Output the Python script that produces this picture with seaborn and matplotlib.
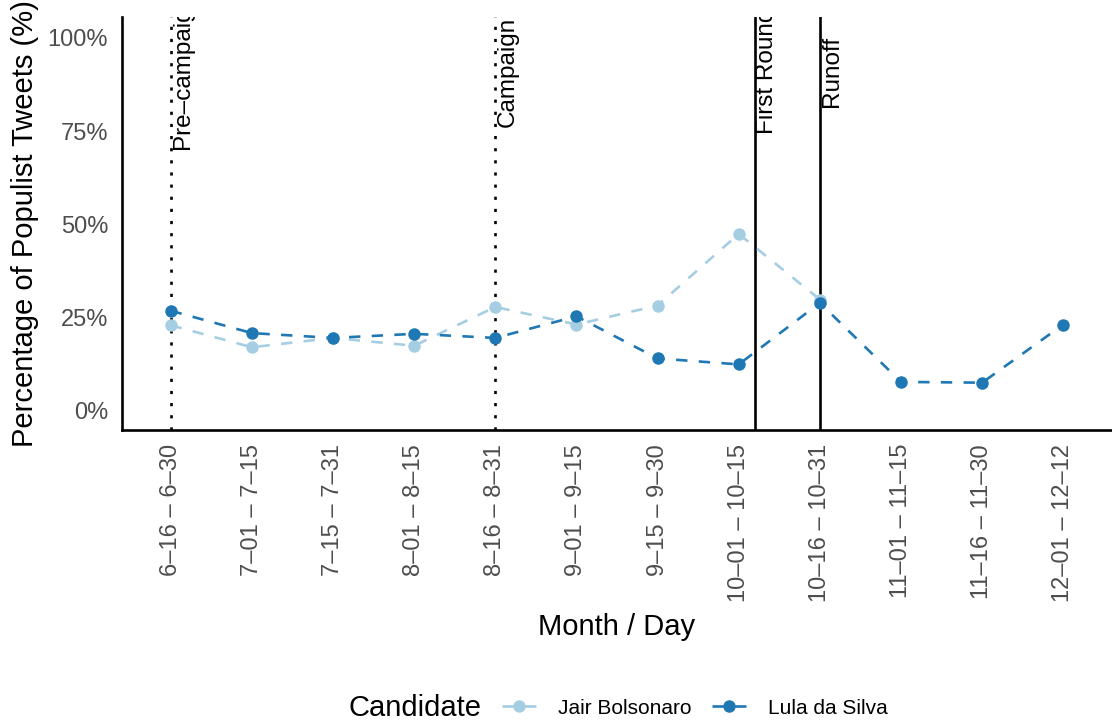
import pandas as pd
import matplotlib.pyplot as plt
import seaborn as sns

# periods (month-day ranges) on the x axis
periods = ['6–16 – 6–30', '7–01 – 7–15', '7–15 – 7–31', '8–01 – 8–15',
           '8–16 – 8–31', '9–01 – 9–15', '9–15 – 9–30', '10–01 – 10–15',
           '10–16 – 10–31', '11–01 – 11–15', '11–16 – 11–30', '12–01 – 12–12']

# share of populist tweets (%) per candidate
lula = [26.8, 20.8, 19.5, 20.6, 19.5, 25.3, 14.0, 12.4, 28.9, 7.7, 7.5, 23.1]
bolsonaro = [22.9, 17.0, 19.5, 17.4, 27.8, 23.1, 28.2, 47.4, 29.8]

candidates = ['Jair Bolsonaro', 'Lula da Silva']
colors = ['#a6cee3', '#1f78b4']

# campaign milestones
events = ['Pre–campaign', 'Campaign', 'First Round', 'Runoff']
event_x = [0, 4, 7.2, 8]
event_style = [(0, (1.2, 3.4)), (0, (1.2, 3.4)), '-', '-']

df = pd.concat([
    pd.DataFrame({'period': periods, 'pct': lula, 'candidate': 'Lula da Silva'}),
    pd.DataFrame({'period': periods[:len(bolsonaro)], 'pct': bolsonaro,
                  'candidate': 'Jair Bolsonaro'}),
])
df['period'] = pd.Categorical(df['period'], categories=periods, ordered=True)

sns.set_style('white')
plt.rcParams['font.family'] = ['Liberation Sans', 'DejaVu Sans']

fig = plt.figure(figsize=(11.12, 7.25), dpi=100)
ax = fig.add_axes([122 / 1112, 1 - 430 / 725, 1 - 122 / 1112, (430 - 17) / 725])

sns.lineplot(data=df, x='period', y='pct', hue='candidate', hue_order=candidates,
             palette=colors, marker='o', markersize=9, markeredgewidth=0,
             linestyle='--', dashes=False, linewidth=1.9, ax=ax, zorder=3)
for line in ax.get_lines():
    line.set_dashes((4.3, 4.3))

handles, labels = ax.get_legend_handles_labels()
ax.get_legend().remove()
for h in handles:
    h.set_dashes((4.3, 4.3))
    h.set_linewidth(1.9)

for x, label, ls in zip(event_x, events, event_style):
    ax.axvline(x, color='black', linewidth=1.9, linestyle=ls, zorder=1,
               dash_capstyle='butt')
    ax.text(x + 0.15, 91, label, rotation=90, ha='center', va='center',
            fontsize=17.5, color='black', clip_on=True)

ax.set_xlim(-0.6, 11.6)
ax.set_ylim(-5.2, 105.6)
ax.set_yticks([0, 25, 50, 75, 100])
ax.set_yticklabels(['0%', '25%', '50%', '75%', '100%'])
ax.set_xticks(range(len(periods)))
ax.set_xticklabels(periods, rotation=90, va='top', ha='center')
ax.tick_params(axis='both', labelsize=17, labelcolor='#4d4d4d', length=0)
ax.tick_params(axis='x', pad=10)
ax.tick_params(axis='y', pad=10)

for side in ['top', 'right']:
    ax.spines[side].set_visible(False)
for side in ['left', 'bottom']:
    ax.spines[side].set_color('black')
    ax.spines[side].set_linewidth(1.9)

ax.set_xlabel('Month / Day', fontsize=21, labelpad=8, color='black')
ax.set_ylabel('Percentage of Populist Tweets (%)', fontsize=21, labelpad=6, color='black')

fig.text(482 / 1112, 1 - 708 / 725, 'Candidate', fontsize=21, ha='right', va='center',
         color='black')
fig.legend(handles, labels, loc='center left', bbox_to_anchor=(502 / 1112, 1 - 708 / 725),
           ncol=2, frameon=False, fontsize=15, handlelength=1.63, handletextpad=1.06,
           columnspacing=1.0, borderpad=0, borderaxespad=0, labelcolor='black')

fig.savefig('out.png', dpi=100)
